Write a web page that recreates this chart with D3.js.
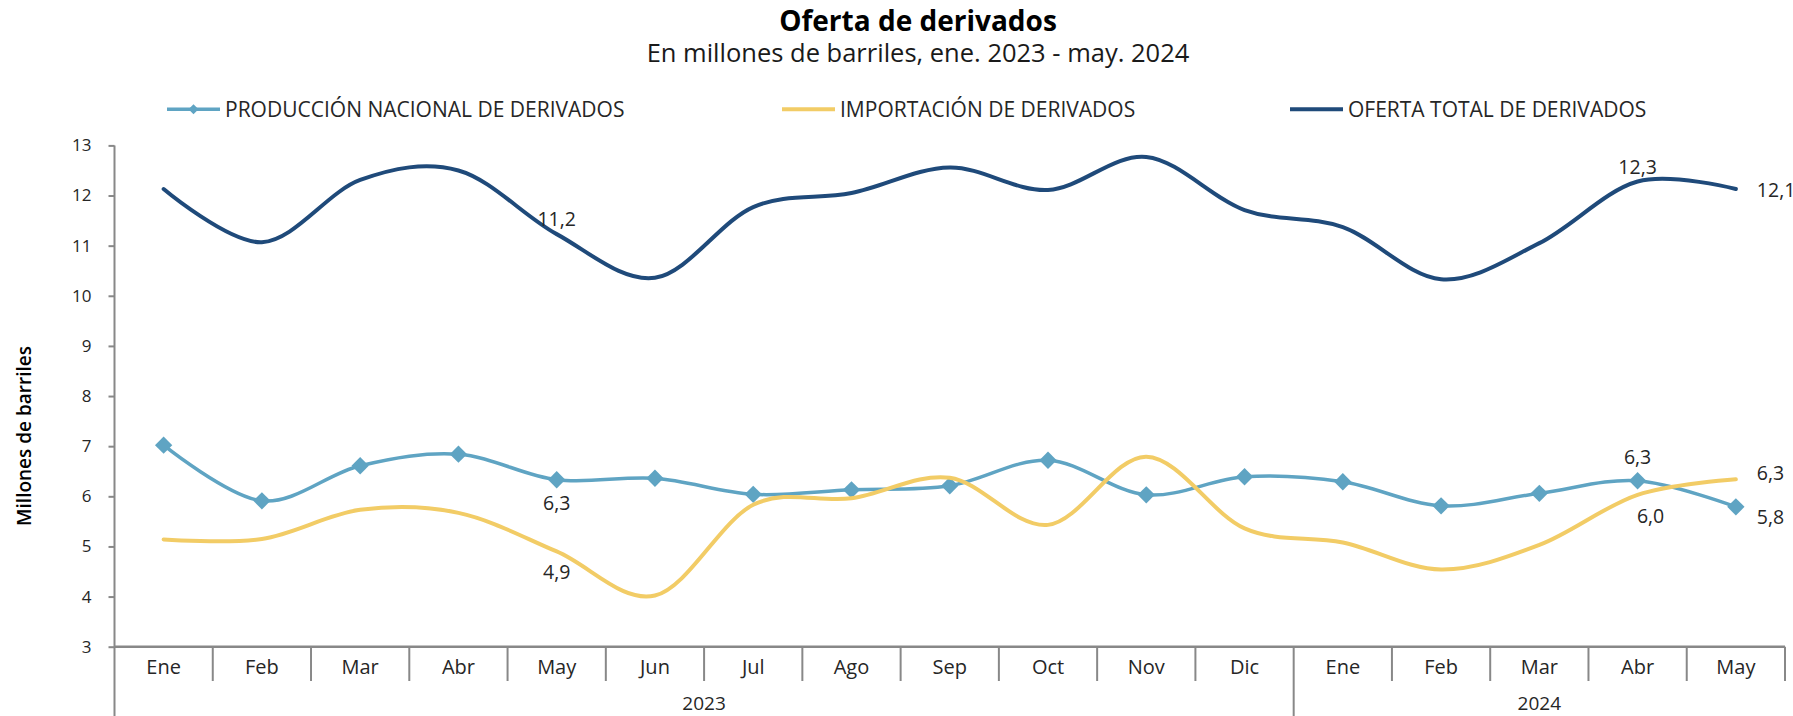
<!DOCTYPE html>
<html>
<head>
<meta charset="utf-8">
<script src="https://cdn.jsdelivr.net/npm/d3@7/dist/d3.min.js"></script>
<style>
    body { margin: 0; background: #fff; }
    svg { display: block; font-family: "Open Sans", sans-serif; }
</style>
</head>
<body>
<div id="chart"></div>
<script>
// datos
var meses = ["Ene", "Feb", "Mar", "Abr", "May", "Jun", "Jul", "Ago", "Sep", "Oct", "Nov", "Dic",
    "Ene", "Feb", "Mar", "Abr", "May"];
var anios = ["2023", "2024"];
var mesesPorAnio = [12, 5];
var produccion = [7.02, 5.91, 6.61, 6.84, 6.33, 6.36, 6.04, 6.13, 6.21, 6.72, 6.03, 6.39,
    6.29, 5.81, 6.06, 6.31, 5.79];
var importacion = [5.14, 5.15, 5.73, 5.67, 4.90, 4.02, 5.83, 5.96, 6.37, 5.43, 6.79, 5.36,
    5.08, 4.54, 5.03, 6.03, 6.34];
var ofertaTotal = [12.13, 11.07, 12.31, 12.50, 11.23, 10.36, 11.77, 12.05, 12.56, 12.11, 12.77, 11.71,
    11.37, 10.33, 11.05, 12.28, 12.13];
var yTicks = [3, 4, 5, 6, 7, 8, 9, 10, 11, 12, 13];

var series = [
    { nombre: "PRODUCCIÓN NACIONAL DE DERIVADOS", valores: produccion, color: "#5fa4c3", ancho: 3.5, marcador: true },
    { nombre: "IMPORTACIÓN DE DERIVADOS", valores: importacion, color: "#f2cc66", ancho: 4, marcador: false },
    { nombre: "OFERTA TOTAL DE DERIVADOS", valores: ofertaTotal, color: "#1f4a7a", ancho: 4, marcador: false }
];

// etiquetas de datos: serie, indice, posicion
var etiquetas = [
    { serie: 2, i: 4, pos: "arriba" },
    { serie: 0, i: 4, pos: "abajo" },
    { serie: 1, i: 4, pos: "abajo" },
    { serie: 2, i: 15, pos: "arriba" },
    { serie: 0, i: 15, pos: "arriba" },
    { serie: 1, i: 15, pos: "abajo", dx: 13 },
    { serie: 2, i: 16, pos: "derecha", dy: 1 },
    { serie: 1, i: 16, pos: "derecha", dy: -6 },
    { serie: 0, i: 16, pos: "derecha", dy: 10 }
];

var width = 1793, height = 716;
var margen = { izq: 114.5, der: 1785, sup: 145.4, inf: 646.7 };

var svg = d3.select("#chart").append("svg")
    .attr("width", width)
    .attr("height", height);

var x = d3.scaleBand()
    .domain(d3.range(meses.length))
    .range([margen.izq, margen.der]);

var y = d3.scaleLinear()
    .domain([3, 13])
    .range([margen.inf, margen.sup]);

var cx = function(i) { return x(i) + x.bandwidth() / 2; };
var fmt = function(v) { return d3.format(".1f")(v).replace(".", ","); };

// titulo
svg.append("text")
    .attr("x", 918).attr("y", 31)
    .attr("text-anchor", "middle")
    .style("font-size", "28px").style("font-weight", "bold").style("fill", "#000")
    .text("Oferta de derivados");
svg.append("text")
    .attr("x", 918).attr("y", 61.5)
    .attr("text-anchor", "middle")
    .style("font-size", "25.5px").style("fill", "#1a1a1a")
    .text("En millones de barriles, ene. 2023 - may. 2024");

// leyenda
var leyendaX = [167, 782, 1290];
var leyenda = svg.append("g").attr("class", "leyenda");
series.forEach(function(s, k) {
    var g = leyenda.append("g").attr("transform", "translate(" + leyendaX[k] + ",109.3)");
    g.append("line")
        .attr("x1", 0).attr("x2", 53)
        .attr("stroke", s.color).attr("stroke-width", s.ancho);
    if (s.marcador) {
        g.append("path")
            .attr("d", d3.symbol(d3.symbolSquare, 50)())
            .attr("transform", "translate(26.5,0) rotate(45)")
            .attr("fill", s.color);
    }
    g.append("text")
        .attr("x", 58).attr("dy", "0.36em")
        .style("font-size", "21px").style("fill", "#262626")
        .text(s.nombre);
});

// eje y
var ejeY = svg.append("g")
    .attr("transform", "translate(" + margen.izq + ",0)")
    .call(d3.axisLeft(y).tickValues(yTicks).tickSize(6).tickPadding(17));
ejeY.select(".domain").remove();
ejeY.selectAll(".tick line").attr("stroke", "#888").attr("stroke-width", 2);
ejeY.selectAll(".tick text")
    .style("font-size", "17px").style("font-family", "Open Sans, sans-serif").style("fill", "#262626");

svg.append("line")
    .attr("x1", margen.izq).attr("x2", margen.izq)
    .attr("y1", margen.sup).attr("y2", height)
    .attr("stroke", "#888").attr("stroke-width", 2);

svg.append("text")
    .attr("transform", "translate(24,436) rotate(-90)")
    .attr("text-anchor", "middle").attr("dy", "0.35em")
    .style("font-size", "19px").style("font-weight", 600).style("fill", "#000")
    .text("Millones de barriles");

// eje x (categorias de dos niveles)
var ejeX = svg.append("g")
    .attr("transform", "translate(0," + margen.inf + ")")
    .call(d3.axisBottom(x).tickSize(0).tickPadding(13).tickFormat(function(i) { return meses[i]; }));
ejeX.select(".domain").remove();
ejeX.selectAll(".tick text")
    .style("font-size", "20px").style("font-family", "Open Sans, sans-serif").style("fill", "#262626");

var cortesAnio = [0];
mesesPorAnio.forEach(function(n, k) { cortesAnio.push(cortesAnio[k] + n); });

svg.append("g").selectAll("line")
    .data(d3.range(1, meses.length + 1))
    .enter().append("line")
    .attr("x1", function(i) { return i < meses.length ? x(i) : margen.der; })
    .attr("x2", function(i) { return i < meses.length ? x(i) : margen.der; })
    .attr("y1", margen.inf)
    .attr("y2", function(i) { return cortesAnio.indexOf(i) > 0 && i < meses.length ? height : 681; })
    .attr("stroke", "#888").attr("stroke-width", 2);

svg.append("line")
    .attr("x1", margen.izq).attr("x2", margen.der)
    .attr("y1", margen.inf).attr("y2", margen.inf)
    .attr("stroke", "#888").attr("stroke-width", 2.5);

svg.append("g").selectAll("text")
    .data(anios)
    .enter().append("text")
    .attr("x", function(d, k) {
        var a = x(cortesAnio[k]);
        var b = cortesAnio[k + 1] < meses.length ? x(cortesAnio[k + 1]) : margen.der;
        return (a + b) / 2;
    })
    .attr("y", 703).attr("dy", "0.35em")
    .attr("text-anchor", "middle")
    .style("font-size", "19px").style("fill", "#262626")
    .text(function(d) { return d; });

// lineas
var linea = d3.line()
    .x(function(v, i) { return cx(i); })
    .y(function(v) { return y(v); })
    .curve(d3.curveCatmullRom.alpha(0));

var capaSeries = svg.append("g");
series.forEach(function(s) {
    capaSeries.append("path")
        .datum(s.valores)
        .attr("d", linea)
        .attr("fill", "none")
        .attr("stroke", s.color)
        .attr("stroke-width", s.ancho)
        .attr("stroke-linecap", "round");
    if (s.marcador) {
        capaSeries.append("g").selectAll("path")
            .data(s.valores)
            .enter().append("path")
            .attr("d", d3.symbol(d3.symbolSquare, 150)())
            .attr("transform", function(v, i) { return "translate(" + cx(i) + "," + y(v) + ") rotate(45)"; })
            .attr("fill", s.color);
    }
});

// etiquetas de datos
svg.append("g").selectAll("text")
    .data(etiquetas)
    .enter().append("text")
    .attr("x", function(d) {
        var px = cx(d.i) + (d.dx || 0);
        return d.pos === "derecha" ? px + 21 : px;
    })
    .attr("y", function(d) {
        var v = series[d.serie].valores[d.i];
        var off = 0;
        if (d.pos === "arriba") off = series[d.serie].marcador ? -24 : -15;
        if (d.pos === "abajo") off = series[d.serie].marcador ? 23 : 21;
        return y(v) + off + (d.dy || 0);
    })
    .attr("dy", "0.36em")
    .attr("text-anchor", function(d) { return d.pos === "derecha" ? "start" : "middle"; })
    .style("font-size", "19.5px").style("fill", "#262626")
    .text(function(d) { return fmt(series[d.serie].valores[d.i]); });
</script>
</body>
</html>
